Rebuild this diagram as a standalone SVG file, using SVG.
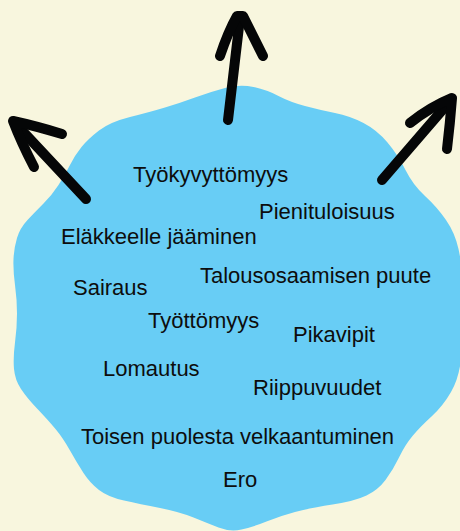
<svg xmlns="http://www.w3.org/2000/svg" width="460" height="531" viewBox="0 0 460 531">
<style>
.lbl{font-family:"Liberation Sans",Arial,sans-serif;font-size:22px;fill:#0d0d0d}
.arr{fill:none;stroke:#050607;stroke-linecap:round;stroke-linejoin:round}
</style>
<rect width="460" height="531" fill="#f8f6de"/>
<g id="blob">
<path fill="#68cdf5" d="M 225,88 Q 240,84 253.5,87 Q 267,90 278.5,96 Q 290,102 305,106 Q 320,110 335,113 Q 350,116 363.5,123 Q 377,130 387.5,142.5 Q 398,155 405.5,170 Q 413,185 425,196 Q 437,207 446,220 Q 455,233 458.5,249 Q 462,265 463,282.5 Q 464,300 463.5,320 Q 463,340 461,359 Q 459,378 451,392 Q 443,406 431.5,416.5 Q 420,427 412.5,436 Q 405,445 399,457.5 Q 393,470 385.5,480 Q 378,490 366.5,495.5 Q 355,501 332.5,504.5 Q 310,508 295,512 Q 280,516 266.5,521.5 Q 253,527 241.5,529.5 Q 230,532 218.5,527.5 Q 207,523 193.5,517.5 Q 180,512 160,508 Q 140,504 124,500.5 Q 108,497 99,490 Q 90,483 83.5,473 Q 77,463 70,450.5 Q 63,438 55.5,429 Q 48,420 37.5,409 Q 27,398 21,389 Q 15,380 14,369 Q 13,358 15,342.5 Q 17,327 17,313.5 Q 17,300 15,285 Q 13,270 13.5,259 Q 14,248 17,238 Q 20,228 27.5,220 Q 35,212 43.5,203.5 Q 52,195 58.5,185 Q 65,175 70,165 Q 75,155 81.5,147 Q 88,139 99,130.5 Q 110,122 130,117 Q 150,112 165,107.5 Q 180,103 195,97.5 Q 210,92 225,88 Z"/>
</g>
<g id="connectors">
<g id="arrow-top">
<path class="arr" stroke-width="10" d="M228,120 L240,18"/>
<path class="arr" stroke-width="10" d="M220,56 Q228,32 237,16 L243,16 Q252,34 263,56"/>
</g>
<g id="arrow-left">
<path class="arr" stroke-width="10" d="M86,199 L14,122"/>
<path class="arr" stroke-width="10" d="M34,167 Q21,142 13,121 Q36,126 62,134"/>
</g>
<g id="arrow-right">
<path class="arr" stroke-width="10" d="M382,180 L451,100"/>
<path class="arr" stroke-width="10" d="M410,123 Q430,107 452,98 Q450,124 447,149"/>
</g>
</g>
<g id="n1"><text class="lbl" x="133" y="182">Työkyvyttömyys</text></g>
<g id="n2"><text class="lbl" x="259" y="219">Pienituloisuus</text></g>
<g id="n3"><text class="lbl" x="61" y="244">Eläkkeelle jääminen</text></g>
<g id="n4"><text class="lbl" x="200" y="283">Talousosaamisen puute</text></g>
<g id="n5"><text class="lbl" x="73" y="295">Sairaus</text></g>
<g id="n6"><text class="lbl" x="148" y="328">Työttömyys</text></g>
<g id="n7"><text class="lbl" x="293" y="342">Pikavipit</text></g>
<g id="n8"><text class="lbl" x="103" y="376">Lomautus</text></g>
<g id="n9"><text class="lbl" x="253" y="395">Riippuvuudet</text></g>
<g id="n10"><text class="lbl" x="81" y="444">Toisen puolesta velkaantuminen</text></g>
<g id="n11"><text class="lbl" x="223" y="487">Ero</text></g>
</svg>
